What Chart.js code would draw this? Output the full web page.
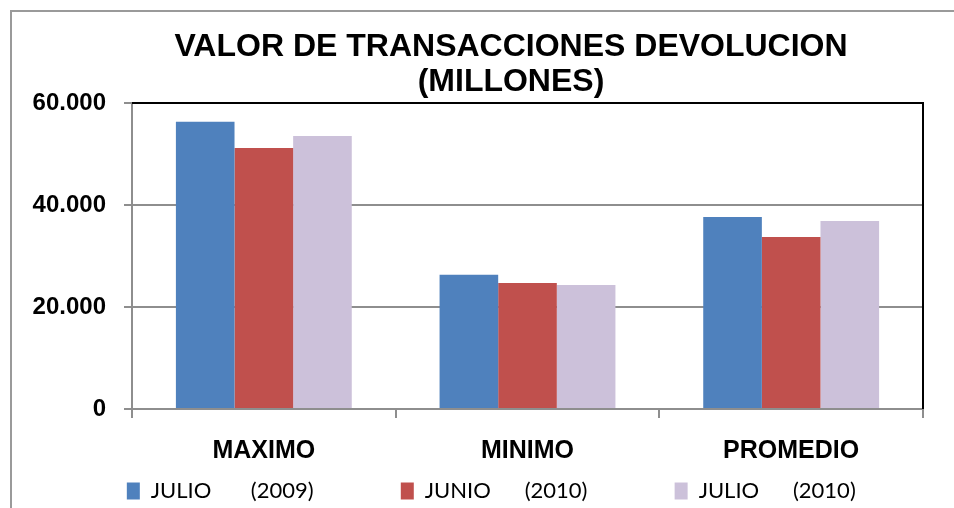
<!DOCTYPE html>
<html>
<head>
<meta charset="utf-8">
<script src="https://cdn.jsdelivr.net/npm/chart.js@4.4.1/dist/chart.umd.min.js"></script>
<style>
  html, body { margin: 0; padding: 0; background: #fff; overflow: hidden; }
  #wrap { position: relative; width: 954px; height: 508px; overflow: hidden; }
  #frame { position: absolute; left: 10px; top: 10px; width: 2000px; height: 2000px;
           border-top: 2px solid #9a9a9a; border-left: 2px solid #9a9a9a; }
  #c { position: absolute; left: 0; top: 0; }
</style>
</head>
<body>
<div id="wrap">
  <div id="frame"></div>
  <!-- the original chart object is wider than the crop: 1022 px keeps the title centred where it was -->
  <canvas id="c" width="1022" height="508"></canvas>
</div>
<script>
const categories = ['MAXIMO', 'MINIMO', 'PROMEDIO'];
const seriesNames = ['JULIO       (2009)', 'JUNIO      (2010)', 'JULIO      (2010)'];
const julio2009 = [56300, 26300, 37650];
const junio2010 = [51200, 24700, 33750];
const julio2010 = [53550, 24300, 36850];
const yTicks = [0, 20000, 40000, 60000];

const colors = ['#4F81BD', '#C0504D', '#CCC1DA'];
// trailing spaces so the legend items land where the original has them
const legendTail = [13, 13, 7];

function fmt(v) {
  return String(v).replace(/\B(?=(\d{3})+(?!\d))/g, '.');
}

// black top/right edge of the plot area
const plotFrame = {
  id: 'plotFrame',
  afterDraw(chart) {
    const { ctx, chartArea: a } = chart;
    ctx.save();
    ctx.strokeStyle = '#000';
    ctx.lineWidth = 2;
    ctx.beginPath();
    ctx.moveTo(a.left, a.top);
    ctx.lineTo(a.right, a.top);
    ctx.lineTo(a.right, a.bottom);
    ctx.stroke();
    ctx.restore();
  }
};

const gray = '#8e8e8e';

new Chart(document.getElementById('c'), {
  type: 'bar',
  data: {
    labels: categories,
    datasets: [julio2009, junio2010, julio2010].map((d, i) => ({
      label: seriesNames[i],
      data: d,
      backgroundColor: colors[i],
      borderWidth: 0,
      barPercentage: 1,
      categoryPercentage: 0.667
    }))
  },
  options: {
    responsive: false,
    animation: false,
    layout: { padding: { left: 0, right: 0, top: 0, bottom: -4 } },
    plugins: {
      title: {
        display: true,
        text: ['VALOR DE TRANSACCIONES DEVOLUCION', '(MILLONES)'],
        color: '#000',
        font: { family: 'Liberation Sans', size: 32, weight: 'bold', lineHeight: '35px' },
        padding: { top: 30, bottom: 3 }
      },
      legend: {
        position: 'bottom',
        align: 'center',
        labels: {
          color: '#000',
          font: { family: 'Lato', size: 22 },
          boxWidth: 13,
          boxHeight: 17,
          padding: 14,
          generateLabels(chart) {
            const items = Chart.defaults.plugins.legend.labels.generateLabels(chart);
            items.forEach((it, i) => { it.text = it.text + ' '.repeat(legendTail[i]); it.lineWidth = 0; });
            return items;
          }
        }
      },
      tooltip: { enabled: false }
    },
    scales: {
      x: {
        offset: true,
        grid: { offset: true, drawOnChartArea: false, drawTicks: true, tickLength: 9, color: gray, lineWidth: 2 },
        border: { color: gray, width: 2 },
        ticks: { color: '#000', padding: 18, font: { family: 'Liberation Sans', size: 25, weight: 'bold' } },
        afterFit(s) { s.height = 57; }
      },
      y: {
        min: 0,
        max: 60000,
        afterBuildTicks(s) { s.ticks = yTicks.map(v => ({ value: v })); },
        grid: { color: gray, lineWidth: 2, tickLength: 8, drawTicks: true },
        border: { color: gray, width: 2 },
        ticks: { color: '#000', padding: 18, font: { family: 'Liberation Sans', size: 24, weight: 'bold' }, callback: v => fmt(v) },
        afterFit(s) { s.width = 132; }
      },
      // empty space on the right of the plot (part of the chart that is cut off in the picture)
      side: {
        position: 'right',
        display: true,
        grid: { display: false },
        border: { display: false },
        ticks: { display: false },
        afterFit(s) { s.width = 99; }
      }
    }
  },
  plugins: [plotFrame]
});
</script>
</body>
</html>
